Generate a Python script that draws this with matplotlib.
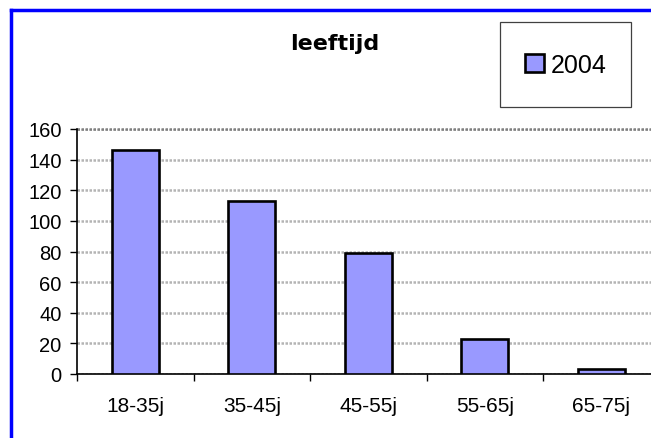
import matplotlib
matplotlib.use("Agg")
import matplotlib.pyplot as plt
from matplotlib.lines import Line2D
from matplotlib.patches import Rectangle
import numpy as np

# data
categories = ["18-35j", "35-45j", "45-55j", "55-65j", "65-75j"]
values_2004 = [146, 113, 79, 23, 3]
series_label = "2004"
y_ticks = [0, 20, 40, 60, 80, 100, 120, 140, 160]

W, H = 651, 439
fig = plt.figure(figsize=(W / 100, H / 100), dpi=100)
fig.patch.set_facecolor("white")

# plot area: left spine at x=77, zero at y=375, 160 at y=130, categories 116.5px wide
left, right = 77, 77 + 5 * 116.5
bottom, top = 375, 130
ax = fig.add_axes([left / W, 1 - bottom / H, (right - left) / W, (bottom - top) / H])

x = np.arange(len(categories))
ax.bar(x, values_2004, width=0.4, color="#9999ff", edgecolor="black", linewidth=1.9,
       label=series_label, zorder=3)

ax.set_xlim(-0.5, len(categories) - 0.5)
ax.set_ylim(0, 160)
ax.set_yticks(y_ticks)
ax.set_yticklabels([str(v) for v in y_ticks], fontsize=14.5, family="Liberation Sans")
ax.set_xticks(x)
ax.set_xticklabels(categories, fontsize=15, family="Liberation Sans")
ax.tick_params(axis="x", length=0, pad=16)
ax.tick_params(axis="y", length=5, width=1, direction="out", pad=6)
# boundary ticks between categories
ax.set_xticks(np.arange(-0.5, len(categories) + 0.5, 1), minor=True)
ax.tick_params(axis="x", which="minor", length=5, width=1, direction="out")

ax.yaxis.grid(True, color="#b4b4b4", linestyle=(0, (1, 0.6)), linewidth=1.8, zorder=0)
ax.axhline(160, color="#808080", linestyle=(0, (1, 0.6)), linewidth=1.8, zorder=1, clip_on=False)
ax.set_axisbelow(True)
for s in ["top", "right"]:
    ax.spines[s].set_visible(False)
ax.spines["left"].set_linewidth(1.2)
ax.spines["bottom"].set_linewidth(1.2)

fig.text(335 / W, 1 - 44 / H, "leeftijd", ha="center", va="center",
         fontsize=16, fontweight="bold", family="DejaVu Sans")

# legend box drawn as its own rectangle
fig.add_artist(Rectangle((500 / W, 1 - 108 / H), 131 / W, 85 / H, transform=fig.transFigure,
                         facecolor="white", edgecolor="#404040", linewidth=0.9))
leg = fig.legend(loc="center", bbox_to_anchor=(566 / W, 1 - 66 / H), frameon=False,
                 prop={"family": "Liberation Sans", "size": 18},
                 handlelength=0.75, handleheight=0.75, handletextpad=0.3,
                 borderpad=0, borderaxespad=0)

# blue outer chart frame (runs off the right and bottom of the image)
fig.add_artist(Line2D([11 / W, 1.1], [1 - 11 / H, 1 - 11 / H], color="#0000ff", linewidth=2.5))
fig.add_artist(Line2D([11 / W, 11 / W], [1 - 11 / H, -0.1], color="#0000ff", linewidth=2.5))

fig.savefig("out.png", dpi=100, facecolor="white")
